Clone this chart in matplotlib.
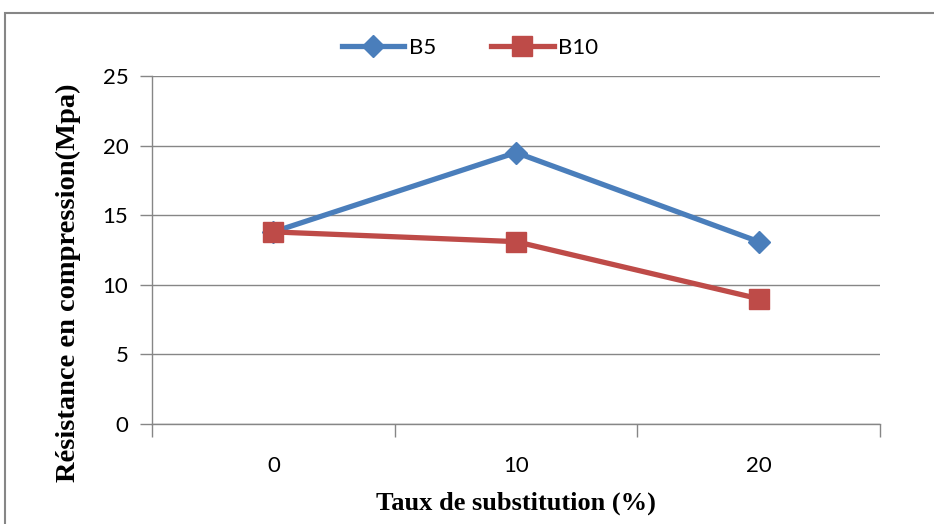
import numpy as np
import matplotlib
import matplotlib.pyplot as plt
from matplotlib.patches import Rectangle

categories = ['0', '10', '20']
b5 = [13.8, 19.5, 13.1]
b10 = [13.8, 13.1, 9.0]
yticks = [0, 5, 10, 15, 20, 25]

grey = '#868686'
blue = '#4A7EBB'
red = '#BE4B48'
tickfont = ['Lato', 'DejaVu Sans']

fig = plt.figure(figsize=(9.34, 5.24), dpi=100)
ax = fig.add_axes([152 / 934, 1 - 424 / 524, (880 - 152) / 934, (424 - 76) / 524])

x = np.arange(len(categories))
ax.plot(x, b5, color=blue, lw=3.8, marker='D', ms=11, label='B5', zorder=3)
ax.plot(x, b10, color=red, lw=3.8, marker='s', ms=14, label='B10', zorder=3)

ax.set_xlim(-0.5, len(categories) - 0.5)
ax.set_ylim(0, 25)
ax.set_yticks(yticks)
ax.set_xticks(np.arange(-0.5, len(categories), 1.0))
ax.set_xticklabels([])
ax.set_xticks(x, minor=True)
ax.set_xticklabels(categories, minor=True, family=tickfont, fontsize=16)
ax.set_yticklabels([str(v) for v in yticks], family=tickfont, fontsize=16)
ax.tick_params(axis='x', which='major', direction='out', length=9, color=grey, width=1)
ax.tick_params(axis='x', which='minor', length=0, pad=23)
ax.tick_params(axis='y', direction='out', length=9, color=grey, width=1, pad=8)

ax.grid(axis='y', color=grey, lw=1)
ax.set_axisbelow(True)
for s in ['top', 'right']:
    ax.spines[s].set_visible(False)
for s in ['left', 'bottom']:
    ax.spines[s].set_color(grey)
    ax.spines[s].set_linewidth(1)

ax.set_xlabel('Taux de substitution (%)', family='Liberation Serif', fontweight='bold', fontsize=19, labelpad=11)
ax.set_ylabel('Résistance en compression(Mpa)', family='Liberation Serif', fontweight='bold', fontsize=20.5)
ax.yaxis.set_label_coords((68 - 152) / 728, (424 - 283) / 348)
ax.yaxis.label.set_verticalalignment('center')

fig.legend(*ax.get_legend_handles_labels(), loc='center', bbox_to_anchor=(470 / 934, 1 - 48 / 524),
           ncol=2, frameon=False, prop={'family': tickfont, 'size': 16}, handlelength=2.8,
           columnspacing=2.5, handletextpad=0.2)

fig.patches.append(Rectangle((5 / 934, -0.1), 1.1, 1.1 - 13 / 524, transform=fig.transFigure,
                             fill=False, edgecolor=grey, lw=1.5))

fig.savefig('out.png', dpi=100)
